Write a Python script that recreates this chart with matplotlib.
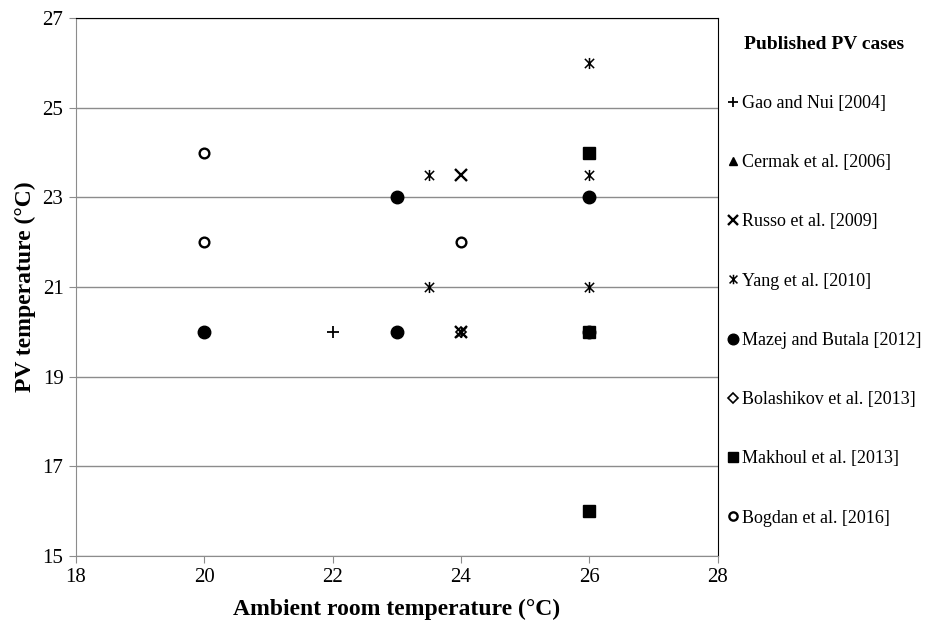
import matplotlib
matplotlib.use('Agg')
import matplotlib.pyplot as plt
from matplotlib.path import Path

plt.rcParams['font.family'] = ['Liberation Serif', 'DejaVu Serif']

# data: (ambient room temp, PV temp)
gao_x = [22]
gao_y = [20]
cermak_x = [26]
cermak_y = [20]
russo_x = [24, 24]
russo_y = [23.5, 20]
yang_x = [23.5, 23.5, 26, 26, 26, 24]
yang_y = [23.5, 21, 26, 23.5, 21, 20]
mazej_x = [20, 23, 23, 26, 26]
mazej_y = [20, 23, 20, 23, 20]
bolash_x = [24]
bolash_y = [20]
makhoul_x = [26, 26, 26]
makhoul_y = [24, 20, 16]
bogdan_x = [20, 20, 24]
bogdan_y = [24, 22, 22]

# x with a vertical bar, like the excel "star" marker
star = Path([(-1, -1), (1, 1), (-1, 1), (1, -1), (0, -1.2), (0, 1.2)],
            [Path.MOVETO, Path.LINETO, Path.MOVETO, Path.LINETO, Path.MOVETO, Path.LINETO])

fig = plt.figure(figsize=(9.26, 6.26), dpi=100)
ax = fig.add_axes([0.082, 0.112, 0.693, 0.859])

ax.plot(cermak_x, cermak_y, '^', color='black', ms=6, ls='none', label='Cermak et al. [2006]')
ax.plot(mazej_x, mazej_y, 'o', color='black', ms=9, ls='none', label='Mazej and Butala [2012]')
ax.plot(makhoul_x, makhoul_y, 's', color='black', ms=8, ls='none', label='Makhoul et al. [2013]')
ax.plot(gao_x, gao_y, '+', color='black', ms=9, mew=1.3, ls='none', label='Gao and Nui [2004]')
ax.plot(russo_x, russo_y, 'x', color='black', ms=8.5, mew=1.7, ls='none', label='Russo et al. [2009]')
ax.plot(yang_x, yang_y, marker=star, color='black', ms=8, mew=1.1, ls='none', label='Yang et al. [2010]')
ax.plot(bolash_x, bolash_y, 'D', mfc='none', mec='black', ms=5.5, mew=1.2, ls='none', label='Bolashikov et al. [2013]')
ax.plot(bogdan_x, bogdan_y, 'o', mfc='white', mec='black', ms=7, mew=1.7, ls='none', label='Bogdan et al. [2016]')

ax.set_xlim(18, 28)
ax.set_ylim(15, 27)
ax.set_xticks(range(18, 29, 2))
ax.set_yticks(range(15, 28, 2))
ax.yaxis.grid(True, color='#8c8c8c', lw=1.0)
ax.set_axisbelow(True)
ax.tick_params(direction='out', length=5, color='#8c8c8c', labelsize=15, pad=4)
ax.spines['left'].set_color('#8c8c8c')
ax.spines['bottom'].set_color('#8c8c8c')
ax.spines['top'].set_color('black')
ax.spines['right'].set_color('black')

ax.set_xlabel('Ambient room temperature (°C)', fontsize=17, fontweight='bold', labelpad=8)
ax.set_ylabel('PV temperature (°C)', fontsize=17, fontweight='bold', labelpad=5)

handles, labels = ax.get_legend_handles_labels()
order = ['Gao and Nui [2004]', 'Cermak et al. [2006]', 'Russo et al. [2009]', 'Yang et al. [2010]',
         'Mazej and Butala [2012]', 'Bolashikov et al. [2013]', 'Makhoul et al. [2013]', 'Bogdan et al. [2016]']
hmap = dict(zip(labels, handles))
leg = fig.legend([hmap[l] for l in order], order, loc='upper left', bbox_to_anchor=(0.768, 0.968),
                 frameon=False, fontsize=13, handlelength=0.6, handletextpad=0.2,
                 labelspacing=2.34, markerscale=0.85, title='Published PV cases',
                 title_fontproperties={'weight': 'bold', 'size': 14})
leg._legend_box.sep = 30

fig.savefig('out.png', dpi=100)
